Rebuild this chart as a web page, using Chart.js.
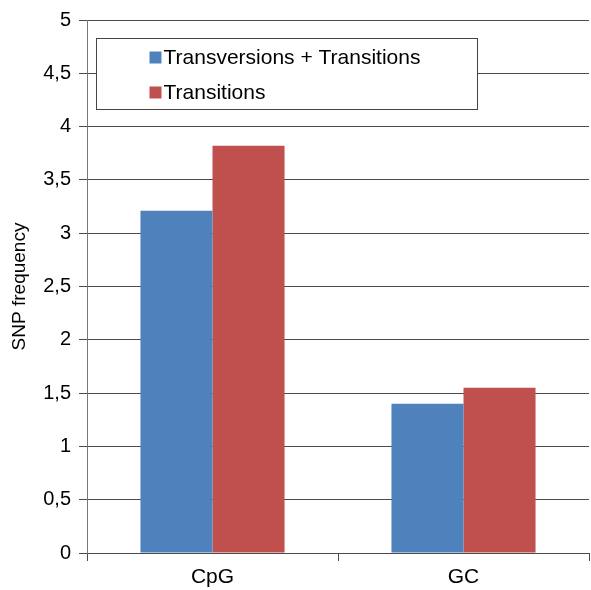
<!DOCTYPE html>
<html>
<head>
<meta charset="utf-8">
<script src="https://cdn.jsdelivr.net/npm/chart.js@4/dist/chart.umd.min.js"></script>
<style>
  html, body { margin: 0; padding: 0; background: #fff; }
  #wrap { width: 591px; height: 590px; }
</style>
</head>
<body>
<div id="wrap"><canvas id="snpChart" width="591" height="590"></canvas></div>
<script>
// Chart data
const categories = ['CpG', 'GC'];
const seriesNames = ['Transversions + Transitions', 'Transitions'];
const transversionsTransitions = [3.21, 1.40];
const transitionsOnly = [3.82, 1.55];
const yTicks = [0, 0.5, 1, 1.5, 2, 2.5, 3, 3.5, 4, 4.5, 5];

const COLORS = ['#4F81BD', '#C0504D'];
const LINE = '#4a4a4a';
const FONT = 'Arial, "Liberation Sans", sans-serif';

// Legend box drawn inside the plot area
const insideLegend = {
  id: 'insideLegend',
  afterDatasetsDraw(chart) {
    const { ctx, chartArea } = chart;
    const x = chartArea.left + 9.5;
    const y = chartArea.top + 18.5;
    const w = 381;
    const h = 71;
    ctx.save();
    ctx.fillStyle = '#ffffff';
    ctx.fillRect(x, y, w, h);
    ctx.strokeStyle = '#444444';
    ctx.lineWidth = 1;
    ctx.strokeRect(x, y, w, h);
    ctx.font = '21px ' + FONT;
    ctx.textBaseline = 'middle';
    chart.data.datasets.forEach((ds, i) => {
      const cy = y + 19 + i * 35;
      ctx.fillStyle = ds.backgroundColor;
      ctx.fillRect(x + 53, cy - 6, 12, 12);
      ctx.fillStyle = '#000000';
      ctx.fillText(ds.label, x + 67, cy + 1);
    });
    ctx.restore();
  }
};

new Chart(document.getElementById('snpChart'), {
  type: 'bar',
  data: {
    labels: categories,
    datasets: [
      {
        label: seriesNames[0],
        data: transversionsTransitions,
        backgroundColor: COLORS[0],
        categoryPercentage: 0.574,
        barPercentage: 1.0,
      },
      {
        label: seriesNames[1],
        data: transitionsOnly,
        backgroundColor: COLORS[1],
        categoryPercentage: 0.574,
        barPercentage: 1.0,
      }
    ]
  },
  options: {
    responsive: false,
    animation: false,
    layout: { padding: { top: 18, right: 2, left: 0, bottom: 0 } },
    plugins: {
      legend: { display: false },
      tooltip: { enabled: false },
    },
    scales: {
      x: {
        afterFit: s => { s.height = 37; },
        grid: {
          offset: true,
          drawOnChartArea: false,
          drawTicks: true,
          tickLength: 8,
          color: LINE,
        },
        border: { display: true, color: LINE },
        ticks: {
          color: '#000',
          font: { family: FONT, size: 21 },
          padding: 4,
        },
      },
      y: {
        min: 0,
        max: 5,
        afterFit: s => { s.width = 87; },
        afterBuildTicks: s => { s.ticks = yTicks.map(v => ({ value: v })); },
        grid: {
          color: LINE,
          tickLength: 8,
          drawTicks: true,
        },
        border: { display: true, color: '#777777' },
        ticks: {
          color: '#000',
          font: { family: FONT, size: 20 },
          padding: 8,
          callback: v => String(v).replace('.', ','),
        },
        title: {
          display: true,
          text: 'SNP frequency',
          color: '#000',
          font: { family: FONT, size: 19 },
          padding: { top: 8, bottom: 0 },
        }
      }
    }
  },
  plugins: [insideLegend]
});
</script>
</body>
</html>
